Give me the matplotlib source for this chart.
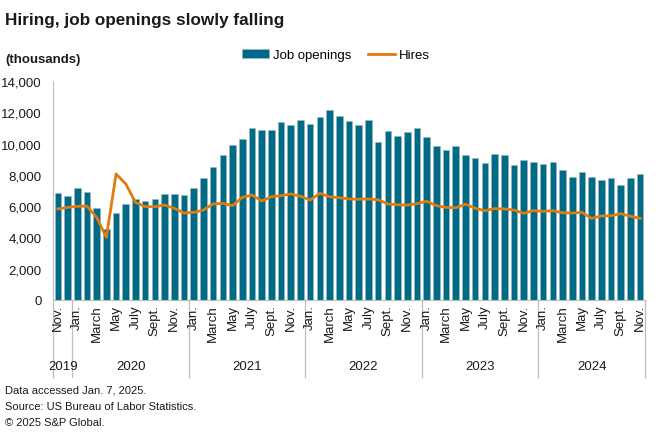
import matplotlib
matplotlib.use("Agg")
import matplotlib.pyplot as plt
from matplotlib.ticker import FuncFormatter, FixedLocator

plt.rcParams['font.family'] = ['Liberation Sans', 'DejaVu Sans']

# Nov 2019 .. Nov 2024 (61 months), thousands
job_openings = [
    6.84, 6.65,
    7.14, 6.93, 5.86, 4.54, 5.54, 6.12, 6.44, 6.33, 6.46, 6.78, 6.80, 6.71,
    7.14, 7.80, 8.48, 9.25, 9.89, 10.29, 10.98, 10.87, 10.85, 11.36, 11.17, 11.49,
    11.23, 11.70, 12.17, 11.76, 11.47, 11.19, 11.53, 10.12, 10.78, 10.51, 10.72, 10.97,
    10.40, 9.82, 9.61, 9.87, 9.27, 9.08, 8.76, 9.31, 9.27, 8.66, 8.92, 8.85,
    8.72, 8.79, 8.31, 7.89, 8.18, 7.86, 7.67, 7.82, 7.33, 7.80, 8.06,
]
hires = [
    5.82, 5.92,
    5.99, 6.00, 5.28, 4.00, 8.06, 7.42, 6.24, 5.97, 5.97, 6.07, 5.86, 5.56,
    5.60, 5.75, 6.14, 6.18, 6.03, 6.56, 6.71, 6.33, 6.60, 6.67, 6.78, 6.63,
    6.39, 6.82, 6.60, 6.54, 6.46, 6.44, 6.46, 6.41, 6.14, 6.09, 6.07, 6.16,
    6.31, 6.03, 5.92, 5.90, 6.12, 5.86, 5.71, 5.84, 5.82, 5.75, 5.54, 5.71,
    5.67, 5.71, 5.58, 5.56, 5.60, 5.22, 5.37, 5.39, 5.52, 5.35, 5.22,
]
job_openings = [v * 1000 for v in job_openings]
hires = [v * 1000 for v in hires]

month_names = ['Jan.', 'Feb.', 'March', 'April', 'May', 'June', 'July', 'Aug.',
               'Sept.', 'Oct.', 'Nov.', 'Dec.']
years = ['2019', '2020', '2021', '2022', '2023', '2024']

# month index per bar (0=Jan), starting Nov 2019
months = [(10 + i) % 12 for i in range(len(job_openings))]

BAR = '#006b86'
LINE = '#e07c0c'
GRAY = '#bdbdbd'
TXT = '#1a1a1a'

fig = plt.figure(figsize=(6.6, 4.39), dpi=100)
ax = fig.add_axes([53/660, 1-301/439, 592/660, 219/439])

x = list(range(len(job_openings)))
bars = ax.bar(x, job_openings, width=0.68, color=BAR, edgecolor='#9fb7c0', linewidth=0.4,
              label='Job openings', zorder=2)
line, = ax.plot(x, hires, color=LINE, lw=2.0, label='Hires', zorder=3)

ax.set_xlim(-0.5, len(x) - 0.5)
ax.set_ylim(0, 14000)
ax.yaxis.set_major_locator(FixedLocator(range(0, 14001, 2000)))
ax.yaxis.set_major_formatter(FuncFormatter(lambda v, p: f'{int(v):,}'))
ax.tick_params(axis='y', length=0, labelsize=9.5, colors=TXT, pad=8)

for s in ['top', 'right']:
    ax.spines[s].set_visible(False)
ax.spines['left'].set_color(GRAY)
ax.spines['bottom'].set_color(GRAY)

# month labels (every second month from Jan, plus Nov 2019)
tick_pos = [i for i in x if months[i] % 2 == 0 or i == 0]
tick_lab = [month_names[months[i]] for i in tick_pos]
ax.set_xticks(tick_pos)
ax.set_xticklabels(tick_lab, rotation=90, fontsize=9.5, color=TXT, va='top', ha='center')
ax.tick_params(axis='x', length=0, pad=3)

# year separators and labels
bounds = [-0.5] + [i - 0.5 for i in x if months[i] == 0] + [len(x) - 0.5]
for b in bounds:
    ax.plot([b, b], [0, -0.35], transform=ax.get_xaxis_transform(), color=GRAY,
            lw=0.9, clip_on=False, zorder=1)
for k, yr in enumerate(years):
    c = (bounds[k] + bounds[k + 1]) / 2
    ax.text(c, -0.30, yr, transform=ax.get_xaxis_transform(), ha='center', va='center',
            fontsize=9.5, color=TXT)

fig.text(5/660, 1-20/439, 'Hiring, job openings slowly falling', fontsize=12.3,
         fontweight='bold', color=TXT, va='center', ha='left')
fig.text(5/660, 1-60/439, '(thousands)', fontsize=9.5, fontweight='bold', color=TXT,
         va='center', ha='left')
fig.legend([bars, line], ['Job openings', 'Hires'], loc='center',
           bbox_to_anchor=(336/660, 1-56/439), ncol=2, frameon=False,
           fontsize=9.5, handlelength=2.0, handleheight=0.7, columnspacing=1.3,
           handletextpad=0.3)

foot = ['Data accessed Jan. 7, 2025.', 'Source: US Bureau of Labor Statistics.',
        '\u00a9 2025 S&P Global.']
for i, t in enumerate(foot):
    fig.text(5/660, 1-(391 + 16*i)/439, t, fontsize=8, color=TXT, va='center', ha='left')

fig.savefig('out.png', dpi=100)
